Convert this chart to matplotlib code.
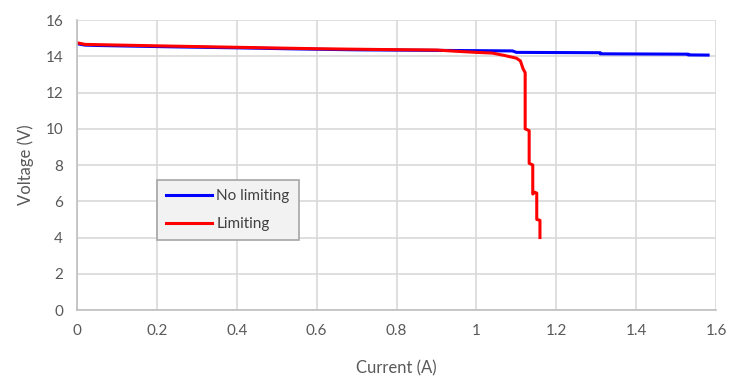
import matplotlib
matplotlib.use("Agg")
import matplotlib.pyplot as plt

# No limiting (blue)
i_nolim = [0.0, 0.02, 0.05, 0.10, 0.25, 0.40, 0.55, 0.70, 0.90, 1.09, 1.10, 1.31, 1.31, 1.53, 1.53, 1.58]
v_nolim = [14.70, 14.62, 14.60, 14.58, 14.52, 14.47, 14.41, 14.36, 14.33, 14.30, 14.22, 14.20, 14.14, 14.12, 14.08, 14.07]

# Limiting (red)
i_lim = [0.0, 0.02, 0.20, 0.40, 0.60, 0.75, 0.90, 0.95, 1.00, 1.04, 1.07, 1.10, 1.11, 1.117,
         1.122, 1.122, 1.132, 1.132, 1.141, 1.141, 1.146, 1.151, 1.151, 1.159, 1.159]
v_lim = [14.75, 14.66, 14.58, 14.50, 14.42, 14.38, 14.35, 14.28, 14.22, 14.18, 14.05, 13.90, 13.75, 13.30,
         13.10, 10.00, 9.90, 8.10, 8.00, 6.40, 6.50, 6.45, 5.00, 4.95, 4.00]

plt.rcParams['font.family'] = ['Lato', 'DejaVu Sans']

fig = plt.figure(figsize=(7.44, 3.76), dpi=100)
ax = fig.add_axes([0.1035, 0.1755, 0.859, 0.771])

ax.plot(i_nolim, v_nolim, color='#0000ff', lw=2.2, label='No limiting')
ax.plot(i_lim, v_lim, color='#ff0000', lw=2.2, label='Limiting')

ax.set_xlim(0, 1.6)
ax.set_ylim(0, 16)
ax.set_xticks([0, 0.2, 0.4, 0.6, 0.8, 1.0, 1.2, 1.4, 1.6])
ax.set_xticklabels(['0', '0.2', '0.4', '0.6', '0.8', '1', '1.2', '1.4', '1.6'])
ax.set_yticks(range(0, 17, 2))

ax.grid(True, color='#d9d9d9', lw=1.2)
ax.set_axisbelow(True)
for s in ['top', 'right']:
    ax.spines[s].set_visible(False)
for s in ['left', 'bottom']:
    ax.spines[s].set_color('#bfbfbf')
    ax.spines[s].set_linewidth(1.2)

ax.tick_params(length=0, labelsize=11, colors='#595959', pad=10)
ax.set_xlabel('Current (A)', fontsize=12, color='#595959', labelpad=16)
ax.set_ylabel('Voltage (V)', fontsize=12, color='#595959', labelpad=8)

leg = ax.legend(loc='lower left', bbox_to_anchor=(0.125, 0.241), fontsize=11,
                fancybox=False, frameon=True, handlelength=3.0, borderpad=0.6,
                labelspacing=0.9, handletextpad=0.3, borderaxespad=0)
leg.get_frame().set_facecolor('#f2f2f2')
leg.get_frame().set_edgecolor('#a6a6a6')
leg.get_frame().set_alpha(1)
leg.get_frame().set_linewidth(1.2)
for t in leg.get_texts():
    t.set_color('#404040')

fig.savefig('out.png', dpi=100)
